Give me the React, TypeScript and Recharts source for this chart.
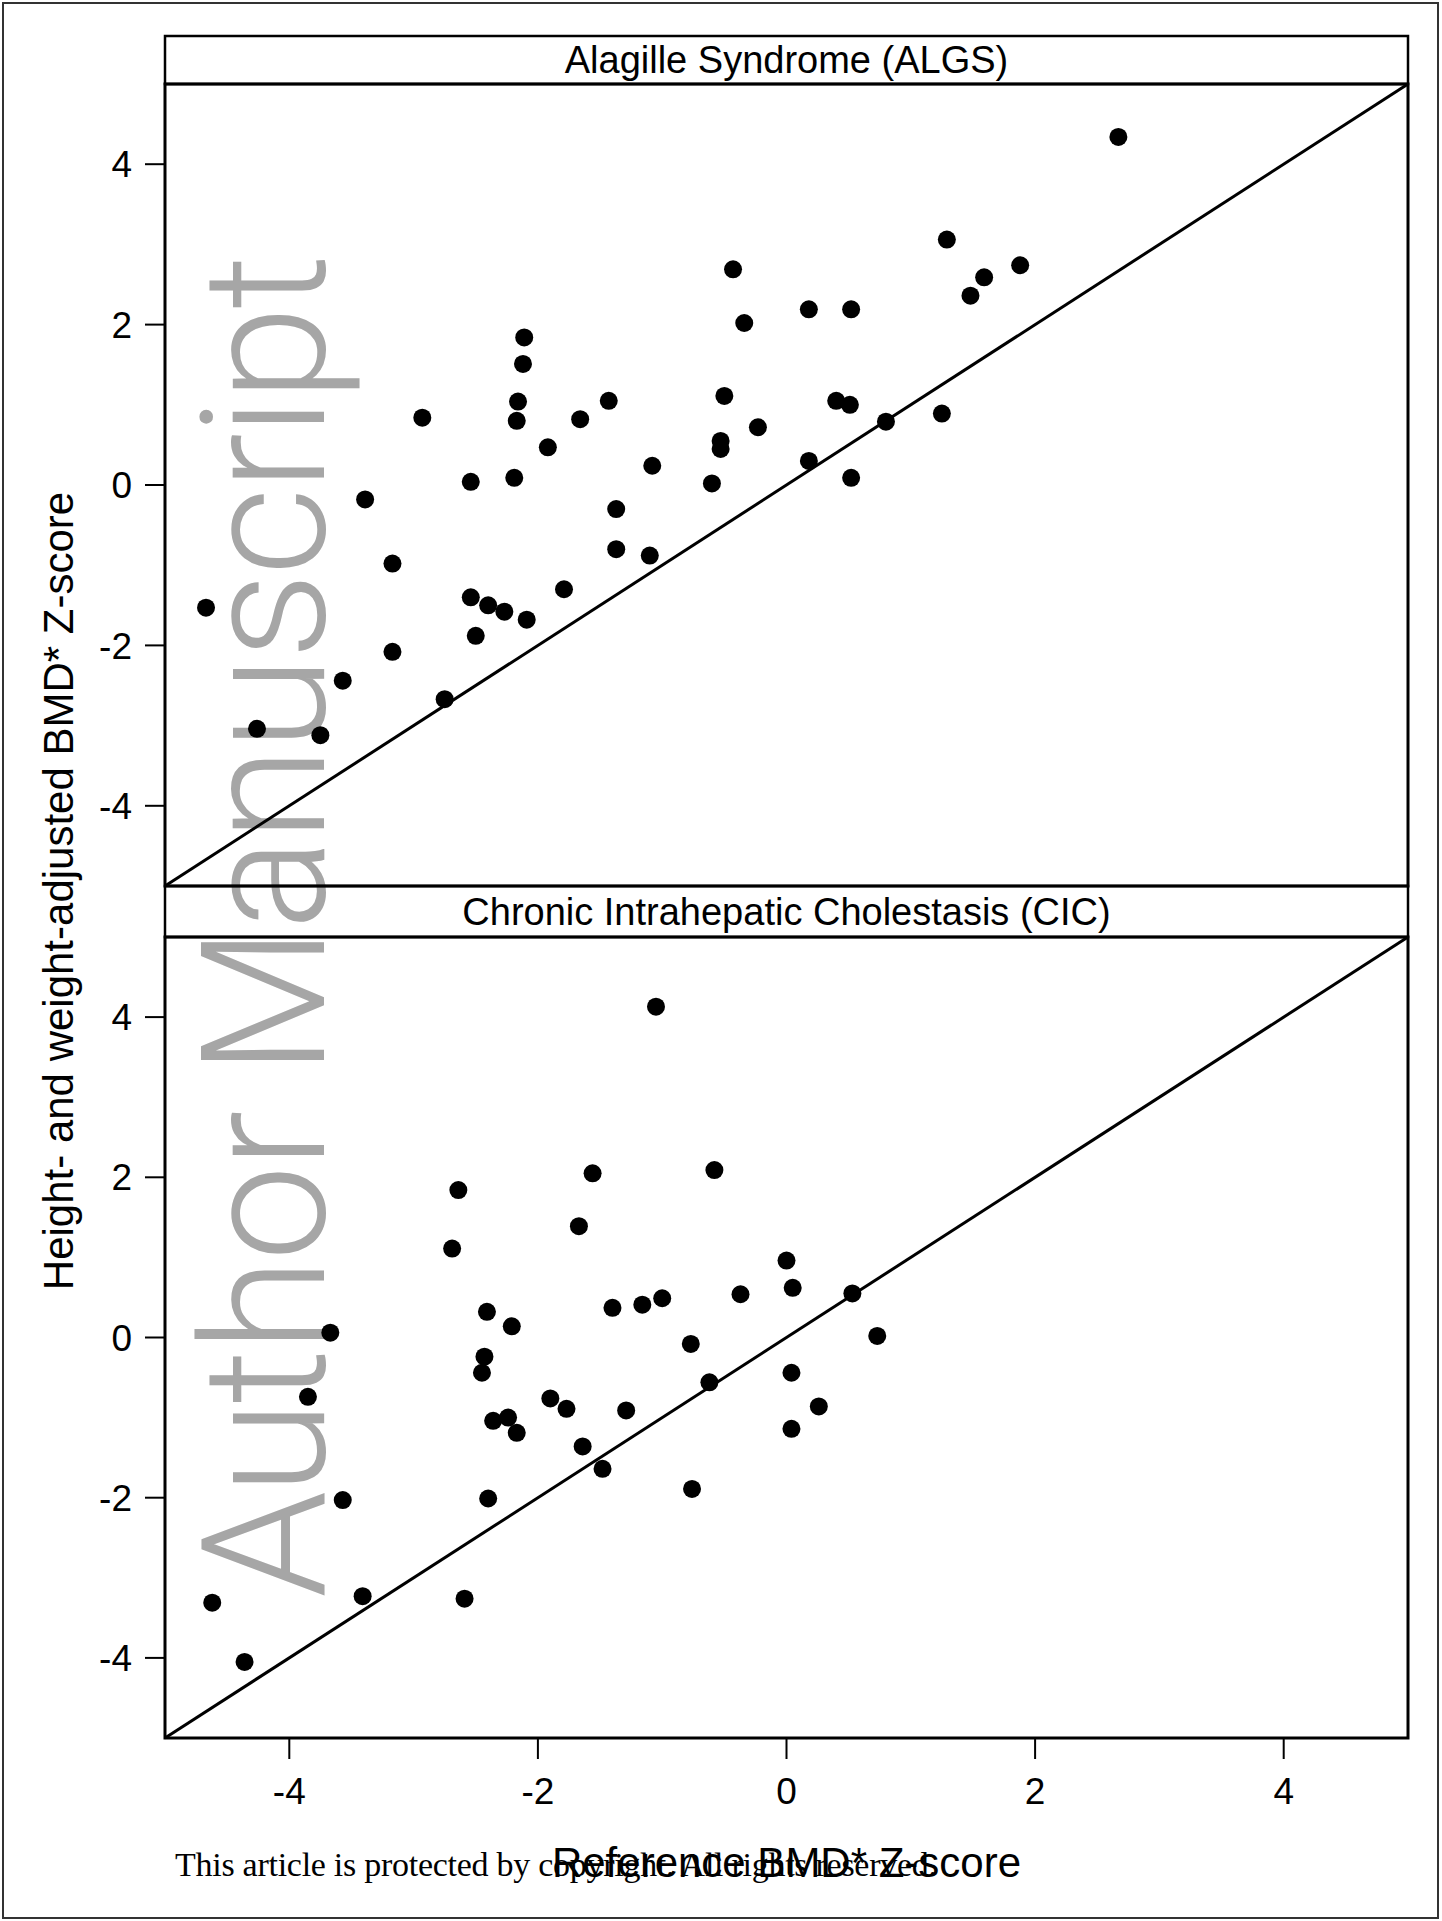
import React from 'react';
import { ReferenceLine, Scatter, ScatterChart, XAxis, YAxis } from 'recharts';

// Alagille Syndrome (ALGS): reference BMD Z-score vs height/weight adjusted Z-score
const algsRef = [
  2.67, 1.29, 1.59, 1.88, 1.48, -0.43, -0.34, 0.18, 0.52, -2.11, -2.12, -2.16,
  -2.17, -2.93, -1.43, -1.66, -1.92, -0.5, -0.53, -0.53, -0.23, 0.4, 0.51, 0.8,
  1.25, 0.18, 0.52, -2.19, -2.54, -0.6, -1.08, -1.37, -1.37, -1.1, -3.39, -3.17,
  -4.67, -2.54, -2.4, -2.27, -2.09, -2.5, -1.79, -3.17, -3.57, -2.75, -4.26, -3.75,
];
const algsAdj = [
  4.34, 3.06, 2.59, 2.74, 2.36, 2.69, 2.02, 2.19, 2.19, 1.84, 1.51, 1.04,
  0.8, 0.84, 1.05, 0.82, 0.47, 1.11, 0.55, 0.45, 0.72, 1.05, 1.0, 0.79,
  0.89, 0.3, 0.09, 0.09, 0.04, 0.02, 0.24, -0.3, -0.8, -0.88, -0.18, -0.98,
  -1.53, -1.4, -1.5, -1.58, -1.68, -1.88, -1.3, -2.08, -2.44, -2.67, -3.04, -3.12,
];

// Chronic Intrahepatic Cholestasis (CIC)
const cicRef = [
  -1.05, -0.58, -1.56, -2.64, -1.67, -2.69, 0.0, 0.05, 0.53, -0.37, -1.0, -1.16,
  -1.4, -2.41, -2.21, -3.67, 0.73, -0.77, -2.43, -2.45, 0.04, -0.62, -3.85, -1.9,
  -1.77, 0.26, -1.29, -2.36, -2.24, -2.17, 0.04, -1.64, -1.48, -3.57, -2.4, -0.76,
  -4.62, -3.41, -2.59, -4.36,
];
const cicAdj = [
  4.13, 2.09, 2.05, 1.84, 1.39, 1.11, 0.96, 0.62, 0.55, 0.54, 0.49, 0.41,
  0.37, 0.32, 0.14, 0.06, 0.02, -0.08, -0.24, -0.44, -0.44, -0.56, -0.74, -0.76,
  -0.89, -0.86, -0.91, -1.04, -1.0, -1.19, -1.14, -1.36, -1.64, -2.03, -2.01, -1.89,
  -3.31, -3.23, -3.26, -4.05,
];

const axisTicks = [-4, -2, 0, 2, 4];
const domain: [number, number] = [-5, 5];

const font = '"Liberation Sans", Arial, Helvetica, sans-serif';

const toPoints = (xs: number[], ys: number[]) => xs.map((x, i) => ({ x, y: ys[i] }));
const algsData = toPoints(algsRef, algsAdj);
const cicData = toPoints(cicRef, cicAdj);

const Dot = (props: any) => <circle cx={props.cx} cy={props.cy} r={9} fill="#000" />;

const tickStyle = { fontSize: 37, fill: '#000', fontFamily: font };
const tickLine = { stroke: '#000', strokeWidth: 2 };

const Panel = ({ data, showX }: { data: { x: number; y: number }[]; showX: boolean }) => (
  <ScatterChart
    width={1442}
    height={showX ? 900 : 802}
    margin={{ top: 0, right: 34, bottom: 0, left: 0 }}
  >
    <XAxis
      type="number"
      dataKey="x"
      domain={domain}
      ticks={axisTicks}
      hide={!showX}
      height={99}
      axisLine={false}
      tickSize={21}
      tickMargin={19}
      tickLine={tickLine}
      tick={tickStyle}
    />
    <YAxis
      type="number"
      dataKey="y"
      domain={domain}
      ticks={axisTicks}
      width={165}
      axisLine={false}
      tickSize={20}
      tickMargin={13}
      tickLine={tickLine}
      tick={tickStyle}
    />
    <ReferenceLine
      segment={[
        { x: -5, y: -5 },
        { x: 5, y: 5 },
      ]}
      stroke="#000"
      strokeWidth={3}
    />
    <Scatter data={data} shape={Dot} isAnimationActive={false} />
  </ScatterChart>
);

export default function App() {
  return (
    <div style={{ position: 'absolute', left: 0, top: 0, width: 1442, height: 1921, background: '#fff' }}>
      {/* frame, strips, titles and watermark sit under the charts */}
      <svg width={1442} height={1921} style={{ position: 'absolute', left: 0, top: 0 }}>
        <rect x={3} y={3} width={1435} height={1915} fill="none" stroke="#333" strokeWidth={2} />
        <text
          x={324}
          y={926}
          transform="rotate(-90 324 926)"
          textAnchor="middle"
          fontFamily='Roboto, "Liberation Sans", Arial, sans-serif'
          fontWeight={300}
          fontSize={172}
          textLength={1344}
          fill="#a6a6a6"
        >
          Author Manuscript
        </text>

        <rect x={165} y={36} width={1243} height={48} fill="none" stroke="#000" strokeWidth={2.5} />
        <rect x={165} y={84} width={1243} height={802} fill="none" stroke="#000" strokeWidth={3} />
        <rect x={165} y={886} width={1243} height={51} fill="none" stroke="#000" strokeWidth={2.5} />
        <rect x={165} y={937} width={1243} height={801} fill="none" stroke="#000" strokeWidth={3} />

        <text x={786.5} y={73} textAnchor="middle" fontFamily={font} fontSize={38} fill="#000">
          Alagille Syndrome (ALGS)
        </text>
        <text x={786.5} y={925} textAnchor="middle" fontFamily={font} fontSize={38} fill="#000">
          Chronic Intrahepatic Cholestasis (CIC)
        </text>

        <text
          x={73}
          y={891}
          transform="rotate(-90 73 891)"
          textAnchor="middle"
          fontFamily={font}
          fontSize={42}
          fill="#000"
        >
          Height- and weight-adjusted BMD* Z-score
        </text>
        <text x={786.5} y={1877} textAnchor="middle" fontFamily={font} fontSize={42} fill="#000">
          Reference BMD* Z-score
        </text>
        <text
          x={175}
          y={1876}
          fontFamily='"Liberation Serif", "DejaVu Serif", serif'
          fontSize={34}
          textLength={762}
          fill="#000"
        >
          This article is protected by copyright. All rights reserved.
        </text>
      </svg>

      <div style={{ position: 'absolute', left: 0, top: 84 }}>
        <Panel data={algsData} showX={false} />
      </div>
      <div style={{ position: 'absolute', left: 0, top: 937 }}>
        <Panel data={cicData} showX={true} />
      </div>
    </div>
  );
}
